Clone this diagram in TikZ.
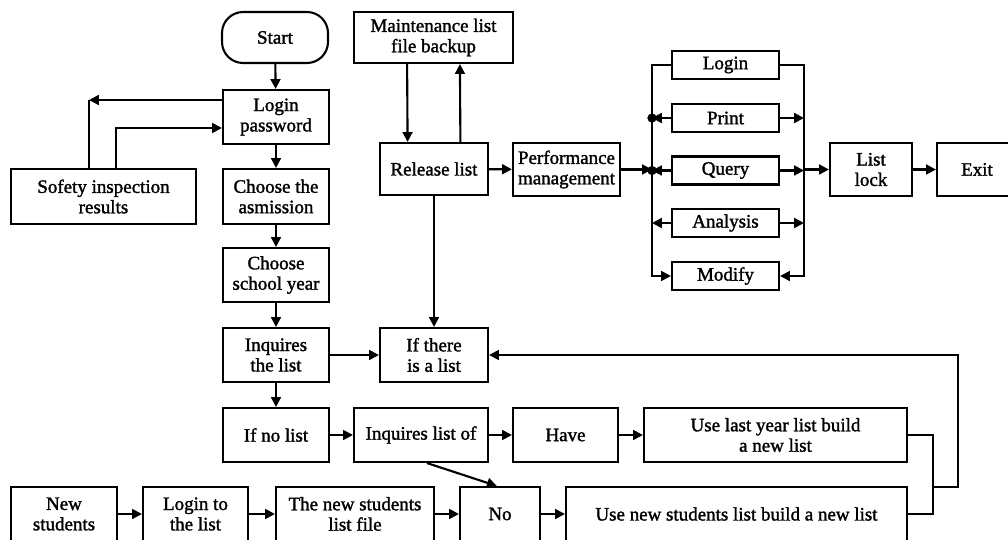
\documentclass[tikz,border=0pt]{standalone}
\usepackage{fontspec}
\setmainfont[FakeBold=1.5]{Liberation Serif}
\usetikzlibrary{arrows.meta}
\begin{document}
\begin{tikzpicture}[x=0.025cm,y=-0.025cm,line width=1.5pt,
	box/.style 2 args={draw,align=center,inner sep=0pt,minimum width=#1*0.025cm,minimum height=#2*0.025cm,font=\fontsize{13.5}{14.5}\selectfont},
	arr/.style={-{Triangle[length=7pt,width=7pt]}}]
	\useasboundingbox (0,0) rectangle (1008,540);
	\node[box={106}{51},rounded corners=15pt] (start) at (275,37.5) {Start};
	\node[box={106}{54}] (lpw) at (276,117) {Login\\password};
	\node[box={185}{55}] (safety) at (103.5,196.5) {Sofety inspection\\results};
	\node[box={106}{55}] (adm) at (276,196.5) {Choose the\\asmission};
	\node[box={106}{54}] (year) at (276,275) {Choose\\school year};
	\node[box={106}{54}] (inq) at (276,355) {Inquires\\the list};
	\node[box={106}{54}] (nolist) at (276,435) {If no list};
	\node[box={159}{51}] (maint) at (433.5,37.5) {Maintenance list\\file backup};
	\node[box={108}{52}] (release) at (434,169) {Release list};
	\node[box={108}{54}] (iflist) at (434,355) {If there\\is a list};
	\node[box={134}{54}] (inqof) at (421,435) {Inquires list of};
	\node[box={107}{53}] (perf) at (566.5,169.5) {Performance\\management};
	\node[box={107}{28}] (login) at (725.5,65) {Login};
	\node[box={107}{28}] (print) at (725.5,118) {Print};
	\node[box={107}{28}] (query) at (725.5,170.5) {Query};
	\node[box={107}{28}] (analysis) at (725.5,223) {Analysis};
	\node[box={107}{28}] (modify) at (725.5,276) {Modify};
	\node[box={82}{53}] (lock) at (871,169.5) {List\\lock};
	\node[box={80}{53}] (exit) at (977,169.5) {Exit};
	\node[box={105}{54}] (have) at (565.5,435) {Have};
	\node[box={263}{54}] (lastyear) at (775.5,435) {Use last year list build\\a new list};
	\node[box={106}{54}] (newstud) at (64,514) {New\\students};
	\node[box={105}{54}] (loginlist) at (195.5,514) {Login to\\the list};
	\node[box={158}{54}] (nsfile) at (355,514) {The new students\\list file};
	\node[box={80}{54}] (no) at (500,514) {No};
	\node[box={341}{54}] (newlist) at (736.5,514) {Use new students list build a new list};
	\coordinate (c1) at (89,100);
	\coordinate (c2) at (116,128);
	\coordinate (bl) at (652,170);
	\coordinate (br) at (804,170);
	\coordinate (j1) at (933,487);
	\coordinate (j2) at (958,0);
	\draw[arr] (start) -- (lpw);
	\draw[arr] (lpw.west |- c1) -- (c1);
	\draw (c1) -- (c1 |- safety.north);
	\draw[arr] (c2 |- safety.north) -- (c2) -- (lpw.west |- c2);
	\draw[arr] (lpw) -- (adm);
	\draw[arr] (adm) -- (year);
	\draw[arr] (year) -- (inq);
	\draw[arr] (inq) -- (nolist);
	\draw[arr] (inq) -- (iflist);
	\draw[arr] ([xshift=-0.66cm]maint.south) -- ([xshift=-0.66cm]release.north);
	\draw[arr] ([xshift=0.66cm]release.north) -- ([xshift=0.66cm]maint.south);
	\draw[arr] (release) -- (iflist);
	\draw[arr] (release) -- (perf);
	\draw[arr] (perf) -- (perf.east -| bl);
	\draw[arr] (login.west) -- (login.west -| bl) -- (modify.west -| bl) -- (modify.west);
	\draw[arr] (login.east) -- (login.east -| br) -- (modify.east -| br) -- (modify.east);
	\foreach \n in {print,query,analysis}{
		\draw[arr] (\n.west) -- (\n.west -| bl);
		\draw[arr] (\n.east) -- (\n.east -| br);
	}
	\filldraw (print.west -| bl) circle (3.5);
	\filldraw (query.west -| bl) circle (3.5);
	\draw[arr] (lock.west -| br) -- (lock.west);
	\draw[arr] (lock) -- (exit);
	\draw[arr] (nolist) -- (inqof);
	\draw[arr] (inqof) -- (have);
	\draw[arr] (have) -- (lastyear);
	\draw[arr] ([xshift=0.15cm]inqof.south) -- ([xshift=-0.08cm]no.north);
	\draw[arr] (newstud) -- (loginlist);
	\draw[arr] (loginlist) -- (nsfile);
	\draw[arr] (nsfile) -- (no);
	\draw[arr] (no) -- (newlist);
	\draw (lastyear.east) -| (j1) |- (newlist.east);
	\draw[arr] (j1) -| (iflist.east -| j2) -- (iflist.east);
\end{tikzpicture}
\end{document}
